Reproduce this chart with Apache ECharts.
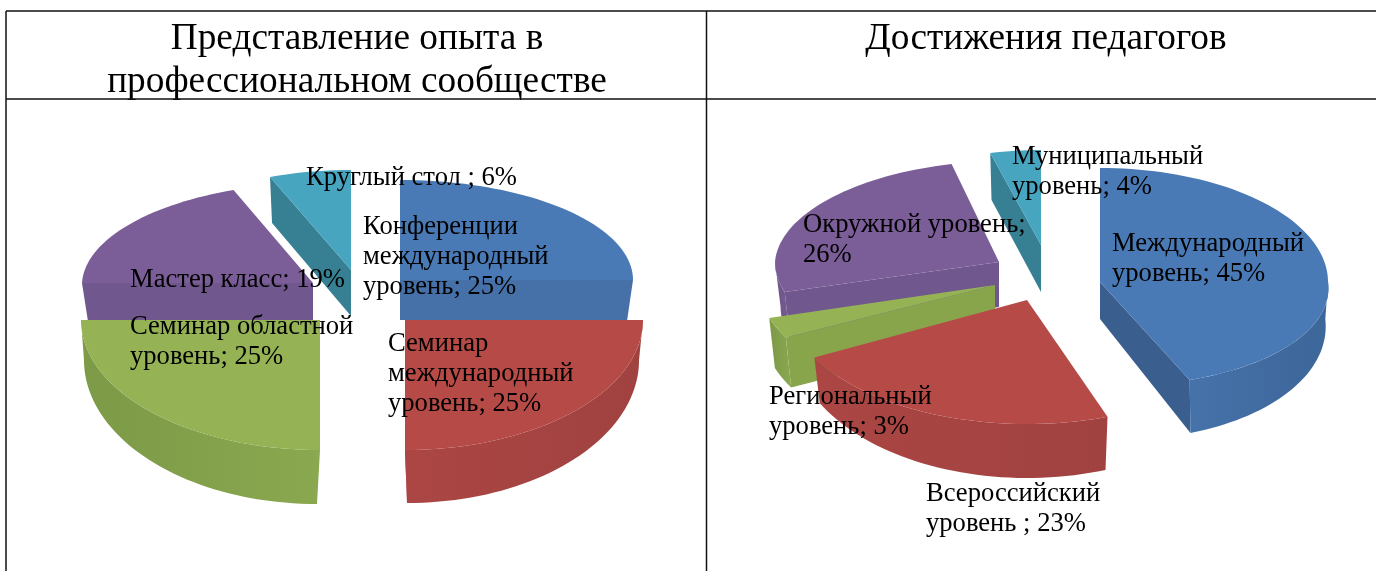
<!DOCTYPE html>
<html>
<head>
<meta charset="utf-8">
<style>
  html, body { margin: 0; padding: 0; background: #fff; }
  #chart { width: 1376px; height: 571px; }
</style>
<script src="https://cdn.jsdelivr.net/npm/echarts@6/dist/echarts.min.js"></script>
</head>
<body>
<div id="chart"></div>
<script>
const leftCategories = ['Конференции международный уровень', 'Семинар международный уровень', 'Семинар областной уровень', 'Мастер класс', 'Круглый стол'];
const leftValues = [25, 25, 25, 19, 6];
const leftLabels = ['Конференции\nмеждународный\nуровень; 25%', 'Семинар\nмеждународный\nуровень; 25%', 'Семинар областной\nуровень; 25%', 'Мастер класс; 19%', 'Круглый стол ; 6%'];

const rightCategories = ['Международный уровень', 'Всероссийский уровень', 'Региональный уровень', 'Окружной уровень', 'Муниципальный уровень'];
const rightValues = [45, 23, 3, 26, 4];
const rightLabels = ['Международный\nуровень; 45%', 'Всероссийский\nуровень ; 23%', 'Региональный\nуровень; 3%', 'Окружной уровень;\n26%', 'Муниципальный\nуровень; 4%'];

const titles = ['Представление опыта в\nпрофессиональном сообществе', 'Достижения педагогов'];

// colours: top face, wall dark, wall light, cut face
const sliceColors = [
  ['#4a7ab5', '#3d6699', '#4672aa', '#3a5f8f'],
  ['#b64a47', '#a04240', '#ab4644', '#9a3f3d'],
  ['#95b255', '#7c9a47', '#8aa84f', '#88a54c'],
  ['#7b5d98', '#6f5689', '#745a90', '#70588f'],
  ['#47a5c0', '#377f93', '#3a8599', '#377f93']
];

// exploded position of every slice, in paint order further down
const leftSlices = [
  {cx: 400, cy: 280, rx: 233, ryB: 100, ryF: 130, dB: 40, dF: 53, cut: '#4671a8'},
  {cx: 405, cy: 320, rx: 238, ryB: 100, ryF: 130, dB: 40, dF: 53, dx: 2},
  {cx: 320, cy: 320, rx: 239, ryB: 100, ryF: 130, dB: 40, dF: 54, dx: -3},
  {cx: 313, cy: 283, rx: 231, ryB: 100, ryF: 130, dB: 37, dF: 53, skewB: 6},
  {cx: 351, cy: 270, rx: 220, ryB: 100, ryF: 130, dB: 46, dF: 53}
];
const rightSlices = [
  {cx: 1100, cy: 282, rx: 228, ryB: 114, ryF: 104, dB: 37, dF: 54, skewF: 14, dx: 3},
  {cx: 1027, cy: 300, rx: 240, ryB: 100, ryF: 124, dB: 38, dF: 54},
  {cx: 995, cy: 285, rx: 236, ryB: 100, ryF: 113, dB: 50, dF: 50},
  {cx: 999, cy: 262, rx: 224, ryB: 101, ryF: 103, dB: 45, dF: 50, skewB: 8},
  {cx: 1041, cy: 245, rx: 206, ryB: 95, ryF: 95, dB: 47, dF: 47}
];
const paintOrder = [4, 3, 0, 2, 1];

const leftLabelPos = [[363, 212], [388, 329], [130, 312], [130, 265], [306, 163]];
const rightLabelPos = [[1112, 229], [926, 479], [769, 382], [803, 210], [1012, 142]];

function sliceAngles(values) {
  const total = values.reduce(function (a, b) { return a + b; }, 0);
  let acc = 0;
  return values.map(function (v) {
    const from = acc / total * 360;
    acc += v;
    return [from, acc / total * 360];
  });
}

function project(s, deg, t) {
  const a = deg * Math.PI / 180;
  const c = Math.cos(a);
  const ry = c >= 0 ? s.ryB : s.ryF;
  const skew = c >= 0 ? (s.skewB || 0) : (s.skewF || 0);
  return [s.cx + s.rx * t * Math.sin(a) + skew * t * Math.abs(c), s.cy - ry * t * c];
}

function drop(s, deg, t, p) {
  const c = Math.cos(deg * Math.PI / 180);
  const d = s.dB + (s.dF - s.dB) * Math.max(0, -c) * t;
  return [s.cx + (s.dx || 0) * t + (p[0] - s.cx) * 0.975, p[1] + d];
}

function arcPoints(s, from, to) {
  const pts = [];
  const n = Math.max(2, Math.ceil((to - from) / 2));
  for (let i = 0; i <= n; i++) {
    const deg = from + (to - from) * i / n;
    pts.push([deg, project(s, deg, 1)]);
  }
  return pts;
}

function poly(points, fill) {
  return {type: 'polygon', shape: {points: points}, style: {fill: fill}};
}

function cutFace(s, deg, fill) {
  const apex = project(s, 0, 0);
  const tip = project(s, deg, 1);
  return poly([apex, tip, drop(s, deg, 1, tip), drop(s, 0, 0, apex)], fill);
}

function makeRenderer(slices) {
  return function (params, api) {
    const i = api.value(0);
    const from = api.value(1);
    const to = api.value(2);
    const s = slices[i];
    const col = sliceColors[i];
    const cutColor = s.cut || col[3];
    const children = [];
    const apex = project(s, 0, 0);

    // radial walls that face the viewer
    if (project(s, from, 1)[0] < apex[0]) children.push(cutFace(s, from, cutColor));
    if (project(s, to, 1)[0] > apex[0]) children.push(cutFace(s, to, cutColor));

    // outer wall, only the part on the front of the pie
    const wallFrom = Math.max(from, 90);
    const wallTo = Math.min(to, 270);
    if (wallTo > wallFrom) {
      const top = arcPoints(s, wallFrom, wallTo);
      const upper = top.map(function (p) { return p[1]; });
      const lower = top.map(function (p) { return drop(s, p[0], 1, p[1]); }).reverse();
      children.push(poly(upper.concat(lower), {
        type: 'linear', x: 0, y: 0, x2: 1, y2: 0,
        colorStops: wallFrom >= 180
          ? [{offset: 0, color: col[1]}, {offset: 1, color: col[2]}]
          : [{offset: 0, color: col[2]}, {offset: 1, color: col[1]}]
      }));
    }

    const rim = arcPoints(s, from, to).map(function (p) { return p[1]; });
    children.push(poly([apex].concat(rim), col[0]));
    return {type: 'group', children: children};
  };
}

function pieSeries(name, values, categories, slices) {
  const angles = sliceAngles(values);
  return {
    type: 'custom',
    name: name,
    coordinateSystem: 'none',
    silent: true,
    renderItem: makeRenderer(slices),
    data: paintOrder.map(function (i) {
      return {name: categories[i], value: [i, angles[i][0], angles[i][1], values[i]]};
    })
  };
}

function labelElements(labels, positions) {
  return labels.map(function (text, i) {
    return {
      type: 'text',
      x: positions[i][0],
      y: positions[i][1],
      z: 100,
      style: {
        text: text,
        fill: '#000',
        font: '26.6px "Liberation Serif"',
        lineHeight: 30
      }
    };
  });
}

function lineElement(x1, y1, x2, y2) {
  return {
    type: 'line',
    z: 100,
    shape: {x1: x1, y1: y1, x2: x2, y2: y2},
    style: {stroke: '#111', lineWidth: 1.5}
  };
}

const chart = echarts.init(document.getElementById('chart'));
chart.setOption({
  animation: false,
  backgroundColor: '#fff',
  title: [
    {
      text: titles[0], left: 352, top: 13, textAlign: 'center',
      textStyle: {fontFamily: 'Liberation Serif', fontSize: 37.3, fontWeight: 'normal', color: '#000', lineHeight: 43}
    },
    {
      text: titles[1], left: 1041, top: 13, textAlign: 'center',
      textStyle: {fontFamily: 'Liberation Serif', fontSize: 37.3, fontWeight: 'normal', color: '#000', lineHeight: 43}
    }
  ],
  graphic: {
    elements: [
      lineElement(6, 11, 1376, 11),
      lineElement(6, 99, 1376, 99),
      lineElement(6, 11, 6, 571),
      lineElement(706.5, 11, 706.5, 571)
    ].concat(labelElements(leftLabels, leftLabelPos), labelElements(rightLabels, rightLabelPos))
  },
  series: [
    pieSeries('Представление опыта', leftValues, leftCategories, leftSlices),
    pieSeries('Достижения педагогов', rightValues, rightCategories, rightSlices)
  ]
});
</script>
</body>
</html>
